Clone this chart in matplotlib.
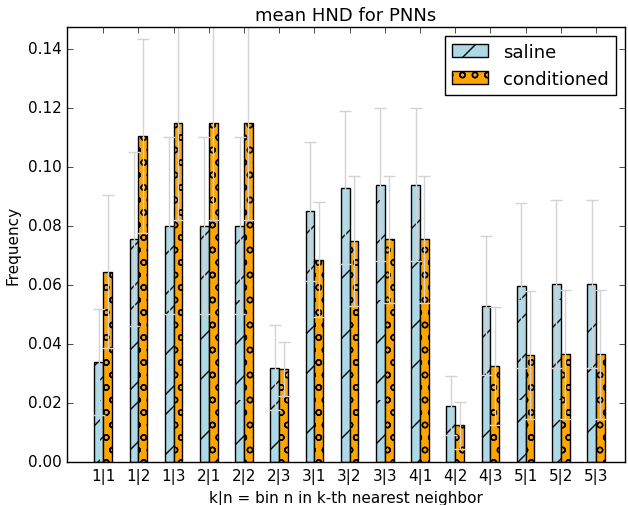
import matplotlib
matplotlib.use("Agg")
import matplotlib.pyplot as plt
import matplotlib.backend_bases as bb
import matplotlib.hatch as mhatch
from matplotlib.path import Path
import numpy as np

plt.style.use('classic')
plt.rcParams['hatch.linewidth'] = 1.0
mhatch.SmallCircles.size = 0.22

# finer hatch spacing for circle pattern, coarser for slashes (as in reference)
def _hatch_path(self, density=6.0):
    hatch = self.get_hatch()
    if hatch is None:
        return None
    d = 8 if 'o' in hatch else 5
    return Path.hatch(hatch, d)
bb.GraphicsContextBase.get_hatch_path = _hatch_path

categories = ["1|1", "1|2", "1|3", "2|1", "2|2", "2|3", "3|1", "3|2", "3|3",
              "4|1", "4|2", "4|3", "5|1", "5|2", "5|3"]
saline = [0.034, 0.0755, 0.080, 0.080, 0.080, 0.032, 0.085, 0.093, 0.094,
          0.094, 0.019, 0.053, 0.0598, 0.0603, 0.0603]
saline_err = [0.018, 0.0295, 0.030, 0.030, 0.030, 0.0145, 0.0235, 0.026, 0.026,
              0.026, 0.010, 0.0236, 0.028, 0.0285, 0.0285]
conditioned = [0.0645, 0.1105, 0.115, 0.115, 0.115, 0.0315, 0.0685, 0.075, 0.0755,
               0.0755, 0.0125, 0.0325, 0.0363, 0.0365, 0.0365]
conditioned_err = [0.026, 0.033, 0.033, 0.033, 0.033, 0.0092, 0.0195, 0.022, 0.0215,
                   0.0215, 0.008, 0.020, 0.0217, 0.0218, 0.0218]

fig = plt.figure(figsize=(6.28, 5.06), dpi=100)
ax = fig.add_axes([0.107, 0.085, 0.888, 0.86])
ind = np.arange(len(categories))
w = 0.25
err_kw = dict(ecolor='lightgray', capsize=4, elinewidth=1, capthick=1)
ax.bar(ind - w, saline, w, align='edge', color='lightblue', hatch='/',
       edgecolor='black', yerr=saline_err, error_kw=err_kw, label='saline')
ax.bar(ind, conditioned, w, align='edge', color='orange', hatch='o',
       edgecolor='black', yerr=conditioned_err, error_kw=err_kw, label='conditioned')
ax.set_xticks(ind)
ax.set_xticklabels(categories, fontsize=11)
ax.set_xlim(-1.02, 14.82)
ax.set_ylim(0, 0.1475)
ax.set_yticks(np.arange(0, 0.141, 0.02))
ax.set_yticklabels(["%.2f" % v for v in np.arange(0, 0.141, 0.02)], fontsize=11)
ax.set_xlabel("k|n = bin n in k-th nearest neighbor", fontsize=11)
ax.set_ylabel("Frequency", fontsize=11)
ax.set_title("mean HND for PNNs", fontsize=13)
ax.legend(loc='upper right', fontsize=13)
fig.savefig("out.png", dpi=100)
